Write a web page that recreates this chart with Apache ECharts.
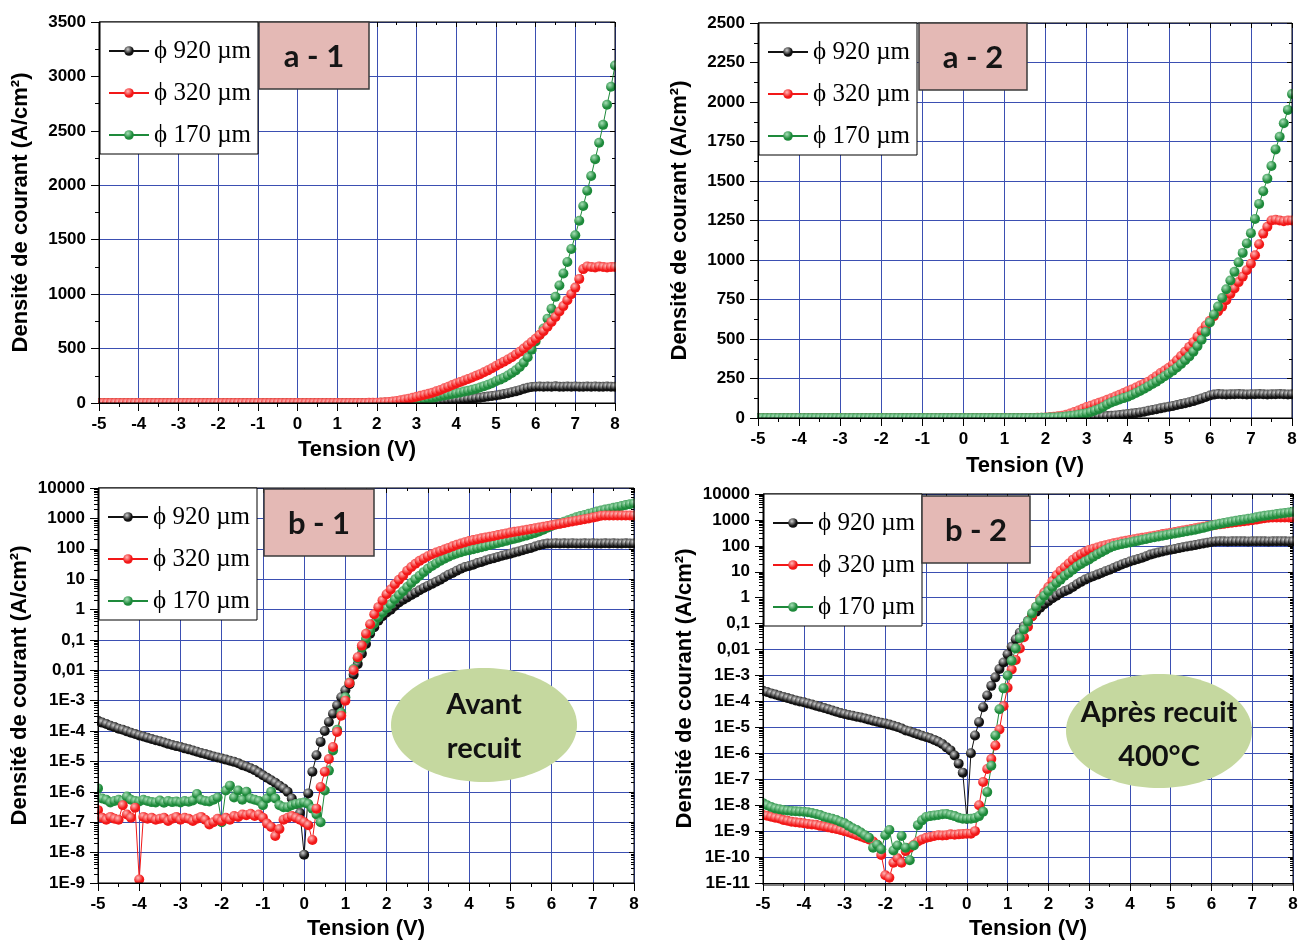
<!DOCTYPE html>
<html>
<head>
<meta charset="utf-8">
<title>Densité de courant</title>
<script src="https://cdn.jsdelivr.net/npm/echarts@6/dist/echarts.min.js"></script>
<style>html,body{margin:0;padding:0;background:#fff;}#chart{width:1307px;height:941px;}</style>
</head>
<body>
<div id="chart"></div>
<script>
// ---------------- DATA ----------------
const tension = [
 -5,-4.9,-4.8,-4.7,-4.6,-4.5,-4.4,-4.3,-4.2,-4.1,
 -4,-3.9,-3.8,-3.7,-3.6,-3.5,-3.4,-3.3,-3.2,-3.1,
 -3,-2.9,-2.8,-2.7,-2.6,-2.5,-2.4,-2.3,-2.2,-2.1,
 -2,-1.9,-1.8,-1.7,-1.6,-1.5,-1.4,-1.3,-1.2,-1.1,
 -1,-0.9,-0.8,-0.7,-0.6,-0.5,-0.4,-0.3,-0.2,-0.1,
 0,0.1,0.2,0.3,0.4,0.5,0.6,0.7,0.8,0.9,
 1,1.1,1.2,1.3,1.4,1.5,1.6,1.7,1.8,1.9,
 2,2.1,2.2,2.3,2.4,2.5,2.6,2.7,2.8,2.9,
 3,3.1,3.2,3.3,3.4,3.5,3.6,3.7,3.8,3.9,
 4,4.1,4.2,4.3,4.4,4.5,4.6,4.7,4.8,4.9,
 5,5.1,5.2,5.3,5.4,5.5,5.6,5.7,5.8,5.9,
 6,6.1,6.2,6.3,6.4,6.5,6.6,6.7,6.8,6.9,
 7,7.1,7.2,7.3,7.4,7.5,7.6,7.7,7.8,7.9,
 8];

// Avant recuit (a-1 / b-1), A/cm²
const jAvant920 = [
 2.2e-4,1.9e-4,1.7e-4,1.5e-4,1.35e-4,1.2e-4,1.1e-4,9.8e-5,8.8e-5,8e-5,
 7.2e-5,6.6e-5,6e-5,5.5e-5,5e-5,4.6e-5,4.2e-5,3.8e-5,3.5e-5,3.2e-5,
 3e-5,2.7e-5,2.5e-5,2.3e-5,2.1e-5,1.9e-5,1.75e-5,1.6e-5,1.45e-5,1.35e-5,
 1.25e-5,1.15e-5,1.05e-5,9.7e-6,8.8e-6,7.5e-6,6.8e-6,6e-6,5.2e-6,4.3e-6,
 3.5e-6,2.9e-6,2.4e-6,2e-6,1.6e-6,1.3e-6,1e-6,6e-7,4e-7,2e-7,
 8.5e-9,8.9e-7,4.6e-6,1.6e-5,4.4e-5,1e-4,2e-4,3.7e-4,7e-4,1.3e-3,
 2.2e-3,3.5e-3,7.2e-3,0.016,0.035,0.073,0.16,0.26,0.43,0.6,
 0.8,0.98,1.3,1.7,2.1,2.5,3,3.6,4.3,5.1,
 6,7,8.2,9.6,11.5,14,16,19,22,25,
 27,30,34,37,41,45,49,54,59,64,
 69,75,82,90,98,107,118,130,140,148,
 150,152,149,151,150,153,150,149,151,150,
 152,150,149,151,150,152,150,149,151,150,
 150];
const jAvant320 = [
 2.5e-7,1.4e-7,1.2e-7,1.5e-7,1.3e-7,1.2e-7,3.6e-7,1.8e-7,1.4e-7,3e-7,
 1.3e-9,1.5e-7,1.3e-7,1.4e-7,1.2e-7,1.3e-7,1.4e-7,1.1e-7,1.3e-7,1.5e-7,
 1.2e-7,1.4e-7,1.3e-7,1.1e-7,1.3e-7,1.5e-7,1.2e-7,8.5e-8,1e-7,1.3e-7,
 1.1e-7,1.4e-7,1.2e-7,1.6e-7,1.5e-7,1.8e-7,1.7e-7,1.9e-7,1.6e-7,1.8e-7,
 1.4e-7,9e-8,7e-8,3.5e-8,6e-8,1.2e-7,1.4e-7,1.6e-7,1.4e-7,1.2e-7,
 1e-7,8e-8,2.6e-8,2.8e-7,1.45e-6,4.6e-6,1.2e-5,3e-5,9.3e-5,3.2e-4,
 1e-3,3.8e-3,0.01,0.027,0.065,0.16,0.33,0.7,1.2,2,
 3.2,4.6,6.8,9.5,13,19,25,32,40,48,
 57,66,75,84,95,107,120,135,150,165,
 180,193,207,220,235,250,265,282,300,320,
 340,360,380,400,420,445,470,500,530,560,
 590,625,660,700,745,790,840,890,945,1000,
 1060,1140,1230,1255,1250,1245,1255,1250,1245,1250,
 1250];
const jAvant170 = [
 1.3e-6,6e-7,5.5e-7,4.5e-7,5e-7,5.5e-7,5e-7,7e-7,5.5e-7,5e-7,
 4.8e-7,5.5e-7,5e-7,4.6e-7,4.5e-7,5.2e-7,4.4e-7,5e-7,4.6e-7,4.8e-7,
 4.5e-7,5e-7,4.7e-7,5.2e-7,8.5e-7,5.5e-7,5e-7,4.8e-7,5.5e-7,6.5e-7,
 1e-7,1.1e-6,1.6e-6,6.5e-7,1.1e-6,5.5e-7,1e-6,6e-7,5.5e-7,5e-7,
 3.6e-7,6e-7,1e-6,6e-7,3.6e-7,3.1e-7,3.1e-7,3.6e-7,4e-7,4.2e-7,
 4.5e-7,4e-7,2.8e-7,1.8e-7,1e-7,1.1e-6,5e-6,2.3e-5,1.1e-4,4e-4,
 1.3e-3,4e-3,0.011,0.025,0.055,0.11,0.2,0.35,0.55,0.8,
 1.1,1.5,2.2,3,4,5.5,7.5,10,13,17,
 22,27,33,40,47,55,63,70,77,84,
 90,97,105,113,122,132,143,155,168,182,
 200,215,232,252,275,300,330,370,420,490,
 565,625,685,775,865,975,1080,1190,1295,1415,
 1540,1675,1810,1950,2085,2240,2390,2555,2740,2905,
 3100];

// Après recuit 400°C (a-2 / b-2), A/cm²
const jApres920 = [
 2.6e-4,2.3e-4,2.05e-4,1.85e-4,1.65e-4,1.5e-4,1.35e-4,1.22e-4,1.1e-4,1e-4,
 9.3e-5,8.4e-5,7.6e-5,6.9e-5,6.2e-5,5.6e-5,5e-5,4.5e-5,4e-5,3.6e-5,
 3.3e-5,3e-5,2.8e-5,2.6e-5,2.4e-5,2.2e-5,2e-5,1.8e-5,1.65e-5,1.5e-5,
 1.4e-5,1.28e-5,1.15e-5,1.03e-5,9e-6,7.6e-6,6.9e-6,6.1e-6,5.4e-6,4.8e-6,
 4.3e-6,3.8e-6,3.3e-6,2.8e-6,2.3e-6,1.7e-6,1.3e-6,8.3e-7,4e-7,1.8e-7,
 3e-9,1e-6,4.9e-6,1.6e-5,6e-5,1.7e-4,4e-4,8.5e-4,1.8e-3,3.2e-3,
 6.6e-3,0.013,0.025,0.045,0.08,0.13,0.2,0.29,0.41,0.56,
 0.74,0.95,1.2,1.5,1.8,2.1,2.6,3.3,4.1,5,
 5.9,6.8,7.8,9,10.5,12,14,16.5,19,22,
 25,28,31,35,40,46,51,56,61,66,
 71,76,82,88,94,100,107,115,124,133,
 142,148,152,150,149,151,150,152,150,149,
 151,150,152,150,149,151,150,152,150,149,
 150];
const jApres320 = [
 4.2e-9,3.9e-9,3.6e-9,3.3e-9,3.1e-9,2.7e-9,2.5e-9,2.3e-9,2.2e-9,2.1e-9,
 2e-9,1.9e-9,1.8e-9,1.75e-9,1.6e-9,1.5e-9,1.4e-9,1.3e-9,1.2e-9,1.1e-9,
 1e-9,9e-10,8e-10,7e-10,6.2e-10,5.4e-10,4.8e-10,4e-10,3e-10,1.2e-10,
 2e-11,1.6e-11,6e-11,9e-11,6e-11,1.7e-10,2.3e-10,3e-10,4e-10,4.8e-10,
 5.5e-10,6e-10,6.5e-10,7e-10,6.8e-10,7e-10,7.5e-10,7.2e-10,7.5e-10,7.8e-10,
 8e-10,8e-10,1e-9,1e-8,7.9e-8,2.5e-7,6e-7,2e-6,8.3e-6,6.6e-5,
 3.4e-4,1.7e-3,4e-3,0.011,0.03,0.076,0.19,0.45,0.93,1.6,
 2.6,4.4,7.4,11,15,21,29,38,48,58,
 70,78,87,96,105,115,125,136,147,158,
 170,181,193,205,217,230,247,265,285,300,
 318,340,365,392,420,450,480,515,550,585,
 615,645,675,705,745,785,820,860,895,935,
 976,1030,1100,1167,1210,1250,1255,1250,1245,1250,
 1250];
const jApres170 = [
 1.2e-8,1e-8,8.5e-9,7.5e-9,7e-9,6.5e-9,6.2e-9,6e-9,5.8e-9,5.7e-9,
 5.6e-9,5.4e-9,5e-9,4.6e-9,4.2e-9,3.6e-9,3.3e-9,3e-9,2.7e-9,2.3e-9,
 2e-9,1.6e-9,1.3e-9,1.1e-9,8.8e-10,7e-10,5.6e-10,2.3e-10,3e-10,2e-10,
 7e-10,1.1e-9,1.8e-10,2.8e-10,6.5e-10,2.3e-10,7.5e-11,2.8e-10,1.7e-9,2.6e-9,
 3.5e-9,3.8e-9,4e-9,4.2e-9,4.5e-9,4.6e-9,4.2e-9,3.8e-9,3.3e-9,3e-9,
 3e-9,3e-9,3.2e-9,3.8e-9,5.6e-9,3.2e-8,3.3e-7,4.9e-6,5e-5,3.2e-4,
 1e-3,3.7e-3,0.011,0.028,0.06,0.12,0.25,0.45,0.75,1.2,
 1.8,2.6,3.7,5,7,9,12,16,20,25,
 30,38,47,57,70,85,98,108,117,126,
 135,146,158,171,185,200,215,230,247,264,
 282,300,320,342,365,390,420,455,495,545,
 605,655,705,760,815,870,925,985,1045,1105,
 1170,1260,1355,1435,1515,1595,1700,1780,1865,1950,
 2050];

const diametres = ['\u03d5 920 \u00b5m', '\u03d5 320 \u00b5m', '\u03d5 170 \u00b5m'];
const logTicksB1 = ['10000','1000','100','10','1','0,1','0,01','1E-3','1E-4','1E-5','1E-6','1E-7','1E-8','1E-9'];
const logTicksB2 = ['10000','1000','100','10','1','0,1','0,01','1E-3','1E-4','1E-5','1E-6','1E-7','1E-8','1E-9','1E-10','1E-11'];
const panelTags = ['a - 1', 'a - 2', 'b - 1', 'b - 2'];
const ellipseTexts = [['Avant', 'recuit'], ['Apr\u00e8s recuit', '400\u00b0C']];
const xLabel = 'Tension (V)';
const yLabel = 'Densit\u00e9 de courant (A/cm\u00b2)';

// ---------------- LAYOUT / STYLE ----------------
const BLUE = '#3b4fb2';
const SANS = 'Liberation Sans, Arial, sans-serif';
const SERIF = 'Liberation Serif, Times New Roman, serif';
const TAGFONT = 'Lato, Open Sans, sans-serif';
const COLORS = [
  {base:'#111111', light:'#cfcfcf'},
  {base:'#f21818', light:'#ffb8b8'},
  {base:'#1e8a3b', light:'#a8dfb7'}
];
const avant = [jAvant920, jAvant320, jAvant170];
const apres = [jApres920, jApres320, jApres170];

const panels = [
  {grid:{left:99, top:22, width:516, height:381}, log:false, yMin:0, yMax:3500, yInterval:500,
   series:avant, order:[0,2,1], xNameGap:36, yNameGap:67,
   legend:{left:100, top:22}, tag:{x:259, y:22, w:110, h:67}},
  {grid:{left:758, top:23, width:534, height:395}, log:false, yMin:0, yMax:2500, yInterval:250,
   series:apres, order:[0,1,2], xNameGap:37, yNameGap:67,
   legend:{left:759, top:23}, tag:{x:919, y:23, w:108, h:67}},
  {grid:{left:98, top:488, width:536, height:395}, log:true, yMin:1e-9, yMax:1e4, ticks:logTicksB1,
   series:avant, order:[0,2,1], xNameGap:35, yNameGap:67,
   legend:{left:99, top:488}, tag:{x:264, y:489, w:110, h:67}},
  {grid:{left:763, top:494, width:530, height:391}, log:true, yMin:1e-11, yMax:1e4, ticks:logTicksB2,
   series:apres, order:[0,1,2], xNameGap:35, yNameGap:67,
   legend:{left:764, top:494}, tag:{x:922, y:496, w:108, h:67}}
];
const ellipses = [
  {cx:484, cy:725, rx:93, ry:57, t1y:705, t2y:749},
  {cx:1159, cy:731, rx:93, ry:57, t1y:713, t2y:757}
];

function markerFill(c) {
  return new echarts.graphic.RadialGradient(0.38, 0.32, 0.8, [
    {offset:0, color:c.light}, {offset:0.6, color:c.base}, {offset:1, color:c.base}
  ]);
}

const grids = [], xAxes = [], yAxes = [], series = [], legends = [], graphics = [];
const labelStyle = {color:'#000', fontFamily:SANS, fontWeight:'bold', fontSize:17};
const nameStyle = {color:'#000', fontFamily:SANS, fontWeight:'bold', fontSize:22};

panels.forEach((p, gi) => {
  grids.push(Object.assign({containLabel:false}, p.grid));
  // bottom x axis (labels, line, ticks) drawn above the data
  xAxes.push({gridIndex:gi, type:'value', position:'bottom', min:-5, max:8, interval:1, z:10,
    axisLine:{show:true, onZero:false, lineStyle:{color:'#000', width:1}},
    axisTick:{show:true, inside:false, length:8, lineStyle:{color:'#000', width:1}},
    minorTick:{show:true, splitNumber:2, length:4, lineStyle:{color:'#000', width:1}},
    splitLine:{show:false},
    axisLabel:Object.assign({margin:13, formatter: v => String(v)}, labelStyle),
    name:xLabel, nameLocation:'middle', nameGap:p.xNameGap, nameTextStyle:nameStyle});
  // top x axis carries the vertical grid lines (below the data)
  xAxes.push({gridIndex:gi, type:'value', position:'top', min:-5, max:8, interval:1, z:0,
    axisLine:{show:false, onZero:false},
    axisTick:{show:true, inside:true, length:5, lineStyle:{color:'#000', width:1}},
    minorTick:{show:true, splitNumber:2, length:3, lineStyle:{color:'#000', width:1}},
    splitLine:{show:true, lineStyle:{color:BLUE, width:1}},
    axisLabel:{show:false}});
  const yScale = p.log
    ? {type:'log', logBase:10, min:p.yMin, max:p.yMax, interval:1}
    : {type:'value', min:p.yMin, max:p.yMax, interval:p.yInterval};
  const lbl = Object.assign({margin:13}, labelStyle);
  lbl.formatter = p.log
    ? (v => p.ticks[Math.round(4 - Math.log10(v))] || '')
    : (v => String(v));
  yAxes.push(Object.assign({gridIndex:gi, position:'left', z:10,
    axisLine:{show:true, onZero:false, lineStyle:{color:'#000', width:1}},
    axisTick:{show:true, inside:false, length:8, lineStyle:{color:'#000', width:1}},
    minorTick:{show:true, splitNumber:p.log ? 9 : 2, length:4, lineStyle:{color:'#000', width:1}},
    splitLine:{show:false},
    axisLabel:lbl,
    name:yLabel, nameLocation:'middle', nameRotate:90, nameGap:p.yNameGap, nameTextStyle:nameStyle}, yScale));
  yAxes.push(Object.assign({gridIndex:gi, position:'right', z:0,
    axisLine:{show:false, onZero:false},
    axisTick:{show:true, inside:true, length:5, lineStyle:{color:'#000', width:1}},
    minorTick:{show:true, splitNumber:p.log ? 9 : 2, length:3, lineStyle:{color:'#000', width:1}},
    splitLine:{show:true, lineStyle:{color:BLUE, width:1}},
    axisLabel:{show:false}}, yScale));

  p.order.forEach(k => {
    series.push({type:'line', name:diametres[k], xAxisIndex:2*gi, yAxisIndex:2*gi,
      data:tension.map((v, i) => [v, p.series[k][i]]),
      symbol:'circle', symbolSize:10, showSymbol:true, z:2, silent:true,
      lineStyle:{color:COLORS[k].base, width:1},
      itemStyle:{color:markerFill(COLORS[k]), borderWidth:0},
      emphasis:{disabled:true}, animation:false});
  });

  legends.push({data:diametres, orient:'vertical', left:p.legend.left, top:p.legend.top, z:20,
    backgroundColor:'#fff', borderColor:'#000', borderWidth:1, borderRadius:0,
    padding:[15, 7, 5, 8], itemGap:14, itemWidth:40, itemHeight:12, selectedMode:false,
    textStyle:{fontFamily:SERIF, fontSize:25, color:'#000', lineHeight:28}});

  // white masks just outside the plot frame (markers are clipped at the frame)
  const g = p.grid, R = g.left + g.width, B = g.top + g.height, m = 7;
  [[g.left - m, g.top - m, m - 1, g.height + 2*m],
   [R + 1, g.top - m, m, g.height + 2*m],
   [g.left - m, g.top - m, g.width + 2*m, m - 1],
   [g.left - m, B + 1, g.width + 2*m, m]].forEach(r => {
    graphics.push({type:'rect', z:5, silent:true, shape:{x:r[0], y:r[1], width:r[2], height:r[3]},
      style:{fill:'#fff'}});
  });
  graphics.push({type:'rect', z:11, silent:true, shape:{x:g.left, y:g.top, width:g.width, height:g.height},
    style:{fill:'none', stroke:'#000', lineWidth:1}});
  // panel tag
  const t = p.tag;
  graphics.push({type:'rect', z:20, silent:true, shape:{x:t.x, y:t.y, width:t.w, height:t.h},
    style:{fill:'#e4b9b5', stroke:'#3a3a3a', lineWidth:1.5}});
  graphics.push({type:'text', z:21, silent:true, x:t.x + t.w/2, y:t.y + t.h/2 + 1,
    style:{text:panelTags[gi], fill:'#151515', font:'bold 31px ' + TAGFONT, align:'center', verticalAlign:'middle'}});
});

ellipses.forEach((e, i) => {
  graphics.push({type:'ellipse', z:15, silent:true, shape:{cx:e.cx, cy:e.cy, rx:e.rx, ry:e.ry},
    style:{fill:'#c5d89f'}});
  graphics.push({type:'text', z:16, silent:true, x:e.cx, y:e.t1y,
    style:{text:ellipseTexts[i][0], fill:'#111', font:'bold 29px ' + TAGFONT, align:'center', verticalAlign:'middle'}});
  graphics.push({type:'text', z:16, silent:true, x:e.cx, y:e.t2y,
    style:{text:ellipseTexts[i][1], fill:'#111', font:'bold 29px ' + TAGFONT, align:'center', verticalAlign:'middle'}});
});

const chart = echarts.init(document.getElementById('chart'), null, {renderer:'canvas'});
chart.setOption({
  animation:false,
  backgroundColor:'#fff',
  grid:grids, xAxis:xAxes, yAxis:yAxes, series:series, legend:legends,
  graphic:{elements:graphics}
});
</script>
</body>
</html>
